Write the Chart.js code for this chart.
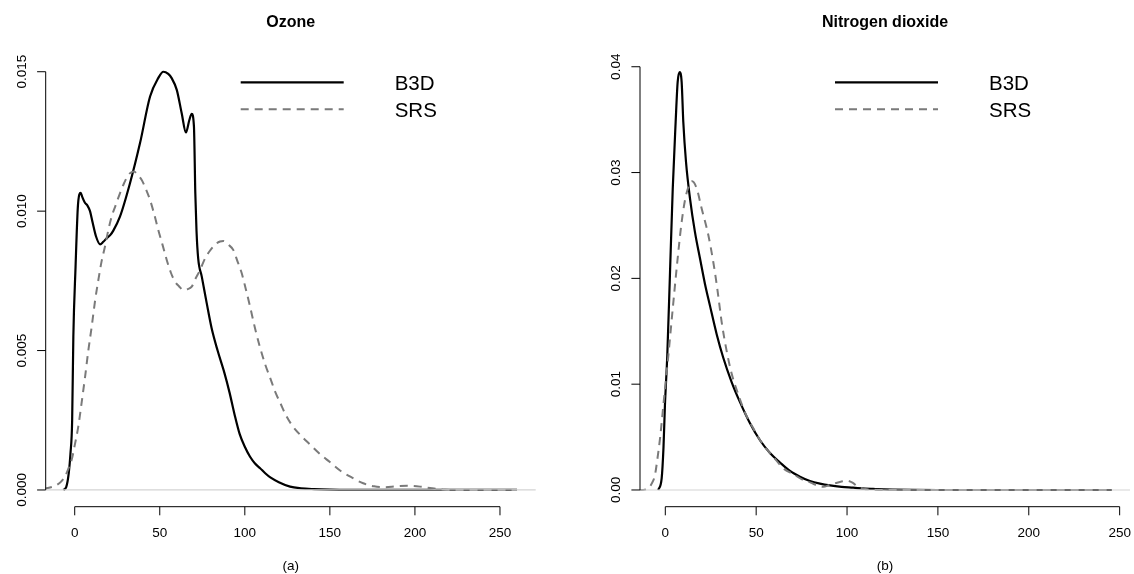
<!DOCTYPE html>
<html>
<head>
<meta charset="utf-8">
<script src="https://cdn.jsdelivr.net/npm/chart.js@4/dist/chart.umd.min.js"></script>
<style>
html,body{margin:0;padding:0;background:#fff;overflow:hidden}
#wrap{position:relative;width:1134px;height:574px;background:#fff}
canvas{position:absolute;left:0;top:0}
</style>
</head>
<body>
<div id="wrap">
<canvas id="c1" width="1134" height="574"></canvas>
<canvas id="c2" width="1134" height="574"></canvas>
</div>
<script>
// ---------- Panel (a): Ozone ----------
const ozoneTitle = "Ozone";
const ozoneSub = "(a)";
const ozoneXTicks = [0, 50, 100, 150, 200, 250];
const ozoneYTicks = [0, 0.005, 0.010, 0.015];
const ozoneYTickLabels = ["0.000", "0.005", "0.010", "0.015"];

const ozoneB3DX = [-6.7, -5, -3.5, -2.5, -1.5, -0.8, 0.5, 1.8, 2.7, 3.5, 4.5, 6, 7.5, 9, 10.5, 12.5, 14.9, 16.8, 18.8, 21, 22.7, 26.6, 32.5, 38.4, 44.3, 49.1, 52.1, 55, 57, 60, 62.9, 65.4, 67.4, 68.8, 70.1, 70.9, 71.6, 72.6, 74.7, 77.6, 80.5, 84, 88, 91, 94, 97, 100, 103, 106, 109, 112, 115, 120, 126.6, 133, 140.7, 150, 160, 200, 260];
const ozoneB3DY = [0, 0.0001, 0.0006, 0.0013, 0.0025, 0.0055, 0.008, 0.0101, 0.0106, 0.01066, 0.0105, 0.0103, 0.0102, 0.0100, 0.0096, 0.0091, 0.00881, 0.0089, 0.00903, 0.00915, 0.0093, 0.0098, 0.0110, 0.01244, 0.01411, 0.01477, 0.0150, 0.01492, 0.01477, 0.01435, 0.01351, 0.01282, 0.01327, 0.01349, 0.01303, 0.01064, 0.0093, 0.0083, 0.00765, 0.0067, 0.0058, 0.0050, 0.0042, 0.0035, 0.0027, 0.0020, 0.00155, 0.0012, 0.00095, 0.00078, 0.0006, 0.00045, 0.00028, 0.00012, 0.00006, 0.00003, 0.00001, 0, 0, 0];

const ozoneSRSX = [-18, -14, -10.6, -8, -5.7, -3.5, -1.8, 0, 2.1, 4, 6.1, 8, 10, 12, 13.9, 15.8, 17.8, 19.7, 21.7, 24, 26.6, 29, 31.5, 34.9, 37, 39.4, 41.8, 44.3, 46.7, 49.1, 51.6, 54.1, 56.5, 59, 61.4, 63.8, 66.3, 68.8, 71.2, 73.7, 76.6, 79.5, 82.5, 85.4, 87.4, 90.3, 93.2, 95.7, 98.2, 100.6, 103, 106, 109, 112, 115, 118, 121, 124, 128, 133, 138, 144, 150, 156, 162.8, 169.6, 176, 182, 189, 195.5, 203, 210, 218, 225, 260];
const ozoneSRSY = [0.00004, 0.0001, 0.00018, 0.0003, 0.00048, 0.0008, 0.00108, 0.0016, 0.00227, 0.0031, 0.00406, 0.0050, 0.00586, 0.0068, 0.00753, 0.0082, 0.00873, 0.0093, 0.0098, 0.0102, 0.01064, 0.0110, 0.0113, 0.01142, 0.0113, 0.01112, 0.0108, 0.0104, 0.0099, 0.00933, 0.0088, 0.00825, 0.0078, 0.00747, 0.0073, 0.00717, 0.0072, 0.00729, 0.0076, 0.00789, 0.0083, 0.00858, 0.0088, 0.00891, 0.00893, 0.0088, 0.00861, 0.0082, 0.00777, 0.0072, 0.0066, 0.0058, 0.0051, 0.0045, 0.0040, 0.0035, 0.0031, 0.0027, 0.0023, 0.00195, 0.00165, 0.0013, 0.001, 0.0007, 0.00045, 0.00024, 0.00013, 0.0001, 0.00013, 0.00015, 0.00012, 0.00006, 0.00001, 0, 0];

// ---------- Panel (b): Nitrogen dioxide ----------
const no2Title = "Nitrogen dioxide";
const no2Sub = "(b)";
const no2XTicks = [0, 50, 100, 150, 200, 250];
const no2YTicks = [0, 0.01, 0.02, 0.03, 0.04];
const no2YTickLabels = ["0.00", "0.01", "0.02", "0.03", "0.04"];

const no2B3DX = [-3.9, -2, -1, -0.2, 1.1, 2.6, 4.1, 5.7, 6.8, 7.9, 9, 9.9, 11.4, 13.6, 16.3, 19.1, 21.8, 24.6, 28.3, 31.9, 36.5, 41.1, 46.6, 52.1, 57.6, 63.1, 68.6, 74.1, 79.6, 85.1, 90.6, 97, 103.4, 110, 114.4, 125, 136, 150, 245.7];
const no2B3DY = [0, 0.0011, 0.004, 0.008, 0.01275, 0.0206, 0.0285, 0.0348, 0.03855, 0.0395, 0.03855, 0.0348, 0.031, 0.02754, 0.02439, 0.02187, 0.0195, 0.0174, 0.0147, 0.0125, 0.0102, 0.0083, 0.0063, 0.0047, 0.0035, 0.0026, 0.0018, 0.00126, 0.00085, 0.0006, 0.00043, 0.0003, 0.00022, 0.00013, 0.0001, 0.00004, 0.00001, 0, 0];

const no2SRSX = [-15, -13.9, -9.4, -7.5, -5.7, -4.3, -2.9, -0.7, 1.7, 4.1, 6.6, 9, 11.4, 14.8, 17.3, 20, 23.7, 26.4, 28.6, 31, 33.8, 36.5, 40.2, 43.9, 48.4, 53.9, 59.4, 64.9, 70.4, 75.9, 80, 84, 87, 90, 93.3, 97, 100, 103, 106, 109, 112.4, 120, 245];
const no2SRSY = [0, 0, 0.00016, 0.0006, 0.0014, 0.003, 0.00488, 0.00865, 0.01275, 0.01715, 0.02155, 0.02533, 0.02785, 0.02917, 0.02848, 0.0266, 0.02407, 0.02155, 0.01904, 0.01589, 0.0131, 0.0110, 0.0090, 0.0073, 0.00583, 0.00425, 0.00315, 0.00205, 0.0015, 0.00094, 0.0007, 0.0004, 0.0003, 0.00045, 0.00063, 0.0008, 0.00088, 0.0007, 0.00031, 0.00012, 0.00005, 0, 0];

const legendLabels = ["B3D", "SRS"];

// ---------- drawing helpers ----------
const FONT = '"Liberation Sans", Arial, Helvetica, sans-serif';
const SOLID = '#000000';
const DASHC = '#7a7a7a';
const DASH = [8, 6];

const rAxesPlugin = {
  id: 'rAxes',
  afterDatasetsDraw(chart) {
    const o = chart.options.plugins.rAxes;
    const ctx = chart.ctx;
    const a = chart.chartArea;
    const xs = chart.scales.x, ys = chart.scales.y;
    ctx.save();
    const y0 = ys.getPixelForValue(0);
    ctx.strokeStyle = '#d3d3d3';
    ctx.lineWidth = 1.2;
    ctx.setLineDash([]);
    ctx.beginPath(); ctx.moveTo(a.left, y0); ctx.lineTo(a.right, y0); ctx.stroke();

    const tickLen = 8.6;
    const fs = 13.5;
    ctx.strokeStyle = '#000';
    ctx.fillStyle = '#000';
    ctx.lineWidth = 1;
    const xb = a.bottom;
    const xp = o.xTicks.map(v => xs.getPixelForValue(v));
    ctx.beginPath();
    ctx.moveTo(xp[0], xb); ctx.lineTo(xp[xp.length - 1], xb);
    xp.forEach(p => { ctx.moveTo(p, xb); ctx.lineTo(p, xb + tickLen); });
    ctx.stroke();
    ctx.font = fs + 'px ' + FONT;
    ctx.textAlign = 'center';
    ctx.textBaseline = 'alphabetic';
    o.xTicks.forEach((v, i) => ctx.fillText(String(v), xp[i], 532.3 + 0.358 * fs));
    const xl = a.left;
    const yp = o.yTicks.map(v => ys.getPixelForValue(v));
    ctx.beginPath();
    ctx.moveTo(xl, yp[0]); ctx.lineTo(xl, yp[yp.length - 1]);
    yp.forEach(p => { ctx.moveTo(xl, p); ctx.lineTo(xl - tickLen, p); });
    ctx.stroke();
    o.yTickLabels.forEach((t, i) => {
      ctx.save();
      ctx.translate(xl - 24.5, yp[i]);
      ctx.rotate(-Math.PI / 2);
      ctx.fillText(t, 0, 0.358 * fs);
      ctx.restore();
    });
    const cx = (a.left + a.right) / 2;
    ctx.font = 'bold 16px ' + FONT;
    ctx.fillText(o.title, cx, 21.7 + 0.358 * 16);
    ctx.font = fs + 'px ' + FONT;
    ctx.fillText(o.sub, cx, 565.7 + 0.3 * fs);
    const lx1 = a.left + 195, lx2 = a.left + 298, tx = a.left + 349;
    const ly = [82.3, 109.3];
    ctx.lineWidth = 2.2; ctx.strokeStyle = SOLID; ctx.setLineDash([]);
    ctx.beginPath(); ctx.moveTo(lx1, ly[0]); ctx.lineTo(lx2, ly[0]); ctx.stroke();
    ctx.lineWidth = 2; ctx.strokeStyle = DASHC; ctx.setLineDash(DASH);
    ctx.beginPath(); ctx.moveTo(lx1, ly[1]); ctx.lineTo(lx2, ly[1]); ctx.stroke();
    ctx.setLineDash([]);
    ctx.font = '20.5px ' + FONT;
    ctx.textAlign = 'left';
    ctx.fillStyle = '#000';
    legendLabels.forEach((t, i) => ctx.fillText(t, tx, ly[i] + 0.358 * 20.5));
    ctx.restore();
  }
};

function pts(xs, ys) { return xs.map((x, i) => ({ x: x, y: ys[i] })); }

function makeChart(id, cfg) {
  return new Chart(document.getElementById(id), {
    type: 'line',
    data: {
      datasets: [
        { label: legendLabels[0], data: pts(cfg.b3dX, cfg.b3dY), borderColor: SOLID, borderWidth: 2.2,
          pointRadius: 0, cubicInterpolationMode: 'monotone', fill: false, order: 1 },
        { label: legendLabels[1], data: pts(cfg.srsX, cfg.srsY), borderColor: DASHC, borderWidth: 2,
          borderDash: DASH, pointRadius: 0, cubicInterpolationMode: 'monotone', fill: false, order: 0 }
      ]
    },
    options: {
      responsive: false,
      animation: false,
      devicePixelRatio: 1,
      events: [],
      layout: { padding: cfg.padding },
      scales: {
        x: { type: 'linear', display: false, min: cfg.xMin, max: cfg.xMax },
        y: { type: 'linear', display: false, min: cfg.yMin, max: cfg.yMax }
      },
      plugins: {
        legend: { display: false },
        tooltip: { enabled: false },
        title: { display: false },
        rAxes: { title: cfg.title, sub: cfg.sub, xTicks: cfg.xTicks, yTicks: cfg.yTicks, yTickLabels: cfg.yTickLabels }
      }
    },
    plugins: [rAxesPlugin]
  });
}

makeChart('c1', {
  title: ozoneTitle, sub: ozoneSub, xTicks: ozoneXTicks, yTicks: ozoneYTicks, yTickLabels: ozoneYTickLabels,
  b3dX: ozoneB3DX, b3dY: ozoneB3DY, srsX: ozoneSRSX, srsY: ozoneSRSY,
  xMin: -17.05, xMax: 271.0, yMin: -0.0006, yMax: 0.0156,
  padding: { left: 45.7, right: 1134 - 535.7, top: 55, bottom: 574 - 506.7 }
});
makeChart('c2', {
  title: no2Title, sub: no2Sub, xTicks: no2XTicks, yTicks: no2YTicks, yTickLabels: no2YTickLabels,
  b3dX: no2B3DX, b3dY: no2B3DY, srsX: no2SRSX, srsY: no2SRSY,
  xMin: -13.92, xMax: 255.7, yMin: -0.00158, yMax: 0.04111,
  padding: { left: 640, right: 4, top: 55, bottom: 574 - 506.7 }
});
</script>
</body>
</html>
